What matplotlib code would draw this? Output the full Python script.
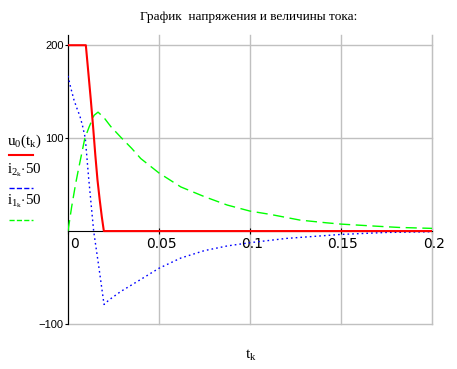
import matplotlib
matplotlib.use('Agg')
import matplotlib.pyplot as plt
import matplotlib.transforms as mtransforms
from matplotlib.lines import Line2D

# values
t_u = [0, 0.0098, 0.0112, 0.0125, 0.0138, 0.0150, 0.0162, 0.0174, 0.0186, 0.0197, 0.2]
u0 = [200, 200, 170, 142, 112, 82, 55, 34, 15, 0, 0]

t_i2 = [0, 0.0014, 0.0033, 0.0051, 0.0065, 0.0079, 0.0095, 0.0113, 0.0141, 0.0169,
        0.0198, 0.0226, 0.029, 0.040, 0.050, 0.062, 0.075, 0.0875, 0.100, 0.120,
        0.150, 0.175, 0.200]
i2_50 = [167, 155, 141, 131, 124, 114, 100, 58, 0, -38,
         -79, -74, -65, -52, -40, -29, -21, -16, -12.5, -7.9,
         -3.6, -1.5, -0.7]

t_i1 = [0, 0.002, 0.0042, 0.0057, 0.0079, 0.0092, 0.0116, 0.0143, 0.0165, 0.0198,
        0.0235, 0.029, 0.035, 0.040, 0.050, 0.062, 0.075, 0.0875, 0.100, 0.111,
        0.1275, 0.142, 0.150, 0.168, 0.182, 0.200]
i1_50 = [0, 26, 51, 66, 87, 99.5, 112, 124.5, 128, 122,
         112.5, 101, 89, 78, 62.5, 47.5, 37, 28, 21.5, 18,
         11.8, 8.9, 7.5, 5.4, 3.9, 2.9]

x_ticks = [0, 0.05, 0.1, 0.15, 0.2]
x_ticklabels = ['0', '0.05', '0.1', '0.15', '0.2']
y_ticks = [-100, 100, 200]
y_ticklabels = ['\u2212100', '100', '200']

title = 'График  напряжения и величины тока:'
legend_labels = [r'$\mathrm{u_0(t_k)}$', r'$\mathrm{i_{2_k}{\cdot}50}$', r'$\mathrm{i_{1_k}{\cdot}50}$']

plt.rcParams['mathtext.fontset'] = 'custom'
plt.rcParams['mathtext.rm'] = 'Liberation Serif'
plt.rcParams['mathtext.it'] = 'Liberation Serif'

W, H = 457, 369
fig = plt.figure(figsize=(W / 100, H / 100), dpi=100)
ax = fig.add_axes([68 / W, 1 - 324 / H, (432 - 68) / W, (324 - 35) / H])

red_line, = ax.plot(t_u, u0, color='#ff0000', lw=1.5, zorder=4)
blue_line, = ax.plot(t_i2, i2_50, color='#0000ff', lw=1.0, dashes=(1.2, 2.2), zorder=3)
green_line, = ax.plot(t_i1, i1_50, color='#00ff00', lw=1.0, dashes=(8, 4), zorder=3)

ax.set_xlim(0, 0.2)
ax.set_ylim(-100, 211)
ax.set_xticks(x_ticks)
ax.set_xticklabels(x_ticklabels, fontsize=8.5, family='Liberation Sans')
ax.set_yticks(y_ticks)
ax.set_yticklabels(y_ticklabels, fontsize=8, family='Liberation Sans')

# Mathcad-like axes: x axis runs through zero
ax.spines['bottom'].set_position(('data', 0))
ax.spines['bottom'].set_color('black')
ax.spines['left'].set_color('black')
ax.spines['top'].set_visible(False)
ax.spines['right'].set_color('#c0c0c0')
ax.tick_params(axis='x', direction='inout', length=5, width=0.8, pad=1.5, colors='black')
ax.tick_params(axis='y', direction='out', length=2.5, width=0.8, pad=0.5, colors='black')
ax.grid(True, color='#c0c0c0', lw=1.0)
ax.set_axisbelow(True)
for gl in ax.get_xgridlines() + ax.get_ygridlines():
    gl.set_clip_on(False)

# nudge x tick labels slightly right, as in the original
shift = mtransforms.ScaledTranslation(2 / 100, 0, fig.dpi_scale_trans)
for lab in ax.get_xticklabels():
    lab.set_transform(lab.get_transform() + shift)
ax.get_xticklabels()[0].set_horizontalalignment('left')

fig.text(249 / W, 1 - 17 / H, title, ha='center', va='center',
         fontsize=9.6, family='Liberation Serif')
fig.text(251 / W, 1 - 355 / H, r'$\mathrm{t_k}$', ha='center', va='center', fontsize=11)

# stacked legend on the left, Mathcad style
lines = [red_line, blue_line, green_line]
text_y = [141, 170, 201]
line_y = [155, 188, 220]
for lab, ln, ty, yy in zip(legend_labels, lines, text_y, line_y):
    fig.text(7 / W, 1 - ty / H, lab, ha='left', va='center', fontsize=10.8)
    ly = 1 - yy / H
    fig.add_artist(Line2D([9 / W, 33 / W], [ly, ly], transform=fig.transFigure,
                          color=ln.get_color(), lw=ln.get_linewidth(),
                          linestyle=ln.get_linestyle()))

fig.savefig('out.png', dpi=100)
